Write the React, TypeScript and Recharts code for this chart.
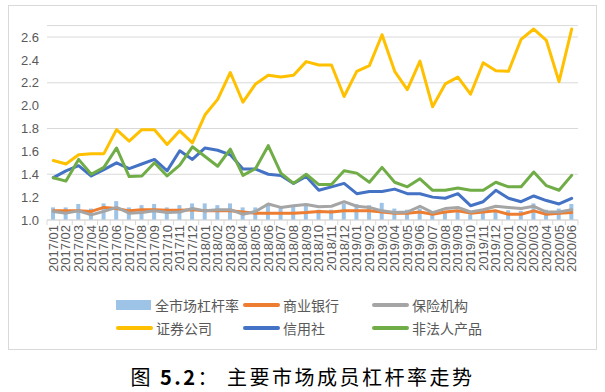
import React from "react"
import { ComposedChart, Bar, Line, XAxis, YAxis, CartesianGrid } from "recharts"

const months = [
  "2017/01", "2017/02", "2017/03", "2017/04", "2017/05", "2017/06", "2017/07", "2017/08", "2017/09", "2017/10", "2017/11", "2017/12",
  "2018/01", "2018/02", "2018/03", "2018/04", "2018/05", "2018/06", "2018/07", "2018/08", "2018/09", "2018/10", "2018/11", "2018/12",
  "2019/01", "2019/02", "2019/03", "2019/04", "2019/05", "2019/06", "2019/07", "2019/08", "2019/09", "2019/10", "2019/11", "2019/12",
  "2020/01", "2020/02", "2020/03", "2020/04", "2020/05", "2020/06",
]

// 全市场杠杆率
const market = [
  1.11, 1.11, 1.14, 1.10, 1.145, 1.165, 1.11, 1.13, 1.14, 1.11, 1.13, 1.145,
  1.145, 1.13, 1.145, 1.11, 1.11, 1.145, 1.12, 1.12, 1.135, 1.09, 1.09, 1.145,
  1.14, 1.13, 1.15, 1.10, 1.09, 1.10, 1.06, 1.08, 1.09, 1.05, 1.07, 1.09,
  1.085, 1.08, 1.145, 1.09, 1.10, 1.14,
]
// 商业银行
const banks = [
  1.08, 1.08, 1.08, 1.075, 1.11, 1.10, 1.08, 1.09, 1.09, 1.085, 1.085, 1.09,
  1.08, 1.08, 1.08, 1.07, 1.06, 1.06, 1.06, 1.06, 1.065, 1.075, 1.07, 1.08,
  1.08, 1.08, 1.07, 1.06, 1.06, 1.07, 1.05, 1.07, 1.08, 1.06, 1.07, 1.08,
  1.05, 1.05, 1.08, 1.05, 1.06, 1.065,
]
// 保险机构
const insurers = [
  1.075, 1.06, 1.08, 1.045, 1.075, 1.11, 1.06, 1.065, 1.08, 1.065, 1.07, 1.10,
  1.08, 1.09, 1.09, 1.05, 1.075, 1.14, 1.11, 1.125, 1.135, 1.115, 1.12, 1.16,
  1.12, 1.11, 1.08, 1.065, 1.07, 1.12, 1.065, 1.10, 1.11, 1.07, 1.09, 1.12,
  1.11, 1.10, 1.12, 1.07, 1.07, 1.09,
]
// 证券公司
const brokers = [
  1.52, 1.49, 1.57, 1.58, 1.58, 1.79, 1.69, 1.79, 1.79, 1.66, 1.78, 1.675,
  1.92, 2.055, 2.29, 2.03, 2.19, 2.265, 2.25, 2.265, 2.385, 2.355, 2.355, 2.08,
  2.30, 2.35, 2.62, 2.30, 2.14, 2.39, 1.99, 2.19, 2.25, 2.10, 2.375, 2.305,
  2.30, 2.58, 2.67, 2.57, 2.21, 2.67,
]
// 信用社
const coops = [
  1.37, 1.43, 1.475, 1.385, 1.44, 1.50, 1.45, 1.49, 1.53, 1.43, 1.605, 1.53,
  1.63, 1.61, 1.57, 1.445, 1.445, 1.40, 1.39, 1.32, 1.38, 1.26, 1.29, 1.32,
  1.23, 1.25, 1.25, 1.27, 1.23, 1.23, 1.20, 1.19, 1.23, 1.125, 1.16, 1.26,
  1.19, 1.16, 1.21, 1.17, 1.14, 1.19,
]
// 非法人产品
const funds = [
  1.37, 1.34, 1.53, 1.40, 1.46, 1.63, 1.38, 1.385, 1.50, 1.385, 1.48, 1.64,
  1.555, 1.47, 1.62, 1.39, 1.45, 1.65, 1.41, 1.32, 1.40, 1.31, 1.31, 1.43,
  1.41, 1.33, 1.46, 1.33, 1.29, 1.36, 1.26, 1.26, 1.28, 1.26, 1.26, 1.33,
  1.29, 1.29, 1.42, 1.30, 1.26, 1.39,
]

const yTicks = [1.0, 1.2, 1.4, 1.6, 1.8, 2.0, 2.2, 2.4, 2.6]

const data = months.map((m, i) => ({
  month: m,
  market: market[i],
  banks: banks[i],
  insurers: insurers[i],
  brokers: brokers[i],
  coops: coops[i],
  funds: funds[i],
}))

const CHART_W = 605
const MARGIN_LEFT = 7
const Y_W = 40
const MARGIN_RIGHT = 27
const BAND = (CHART_W - MARGIN_LEFT - Y_W - MARGIN_RIGHT) / months.length
const TEXT = "#595959"
const GRID = "#d9d9d9"
const FONT = "'Liberation Sans', Arial, sans-serif"

function MonthTick(props: any) {
  const { x, y, payload, index } = props
  const last = index === months.length - 1
  return (
    <g>
      <line x1={x - BAND / 2} x2={x - BAND / 2} y1={y} y2={y + 5} stroke={GRID} />
      {last && <line x1={x + BAND / 2} x2={x + BAND / 2} y1={y} y2={y + 5} stroke={GRID} />}
      <text
        x={x}
        y={y + 5}
        transform={`rotate(-90 ${x} ${y + 5})`}
        textAnchor="end"
        dominantBaseline="central"
        fontSize={13}
        fontFamily={FONT}
        fill={TEXT}
      >
        {payload.value}
      </text>
    </g>
  )
}

const legendItems = [
  { label: "全市场杠杆率", color: "#9DC3E6", bar: true, x: 116, y: 305 },
  { label: "商业银行", color: "#ED7D31", x: 243, y: 305 },
  { label: "保险机构", color: "#A5A5A5", x: 372, y: 305 },
  { label: "证券公司", color: "#FFC000", x: 116, y: 328 },
  { label: "信用社", color: "#4472C4", x: 243, y: 328 },
  { label: "非法人产品", color: "#70AD47", x: 372, y: 328 },
]

export default function App() {
  return (
    <div style={{ position: "absolute", left: 0, top: 0, width: 605, height: 392, background: "#fff" }}>
      <div
        style={{
          position: "absolute",
          left: 8,
          top: 5,
          width: 589,
          height: 345,
          border: `1px solid ${GRID}`,
          boxSizing: "border-box",
        }}
      />
      <div style={{ position: "absolute", left: 0, top: 0 }}>
        <ComposedChart
          width={CHART_W}
          height={290}
          data={data}
          margin={{ top: 25.6, right: MARGIN_RIGHT, left: MARGIN_LEFT, bottom: 10 }}
        >
          <CartesianGrid stroke={GRID} vertical={false} />
          <XAxis
            dataKey="month"
            interval={0}
            height={60}
            tickSize={0}
            tickMargin={0}
            tickLine={false}
            axisLine={{ stroke: GRID }}
            tick={<MonthTick />}
          />
          <YAxis
            type="number"
            domain={[1.0, 2.7]}
            ticks={yTicks}
            width={Y_W}
            axisLine={false}
            tickLine={false}
            tickFormatter={(v: number) => v.toFixed(1)}
            tick={{ fill: TEXT, fontSize: 13, fontFamily: FONT }}
          />
          <Bar dataKey="market" fill="#9DC3E6" barSize={4} isAnimationActive={false} />
          <Line type="linear" dataKey="banks" stroke="#ED7D31" strokeWidth={3} dot={false} strokeLinejoin="round" strokeLinecap="round" isAnimationActive={false} />
          <Line type="linear" dataKey="insurers" stroke="#A5A5A5" strokeWidth={3} dot={false} strokeLinejoin="round" strokeLinecap="round" isAnimationActive={false} />
          <Line type="linear" dataKey="brokers" stroke="#FFC000" strokeWidth={3} dot={false} strokeLinejoin="round" strokeLinecap="round" isAnimationActive={false} />
          <Line type="linear" dataKey="coops" stroke="#4472C4" strokeWidth={3} dot={false} strokeLinejoin="round" strokeLinecap="round" isAnimationActive={false} />
          <Line type="linear" dataKey="funds" stroke="#70AD47" strokeWidth={3} dot={false} strokeLinejoin="round" strokeLinecap="round" isAnimationActive={false} />
        </ComposedChart>
      </div>
      {legendItems.map((it) => (
        <div
          key={it.label}
          style={{
            position: "absolute",
            left: it.x,
            top: it.y - 10,
            height: 20,
            display: "flex",
            alignItems: "center",
            fontFamily: "'Noto Sans CJK SC', sans-serif",
            fontSize: 14,
            color: TEXT,
            whiteSpace: "nowrap",
          }}
        >
          {it.bar ? (
            <span style={{ display: "inline-block", width: 35, height: 10, background: it.color, marginRight: 4 }} />
          ) : (
            <span style={{ display: "inline-block", width: 37, height: 4, borderRadius: 2, background: it.color, marginRight: 3 }} />
          )}
          <span>{it.label}</span>
        </div>
      ))}
      <div
        style={{
          position: "absolute",
          left: 0,
          width: 605,
          top: 362,
          textAlign: "center",
          fontFamily: "'Noto Sans CJK SC', sans-serif",
          fontSize: 20,
          letterSpacing: 2.5,
          color: "#000",
          whiteSpace: "nowrap",
        }}
      >
        图 <b>5.2</b>：&nbsp;主要市场成员杠杆率走势
      </div>
    </div>
  )
}
